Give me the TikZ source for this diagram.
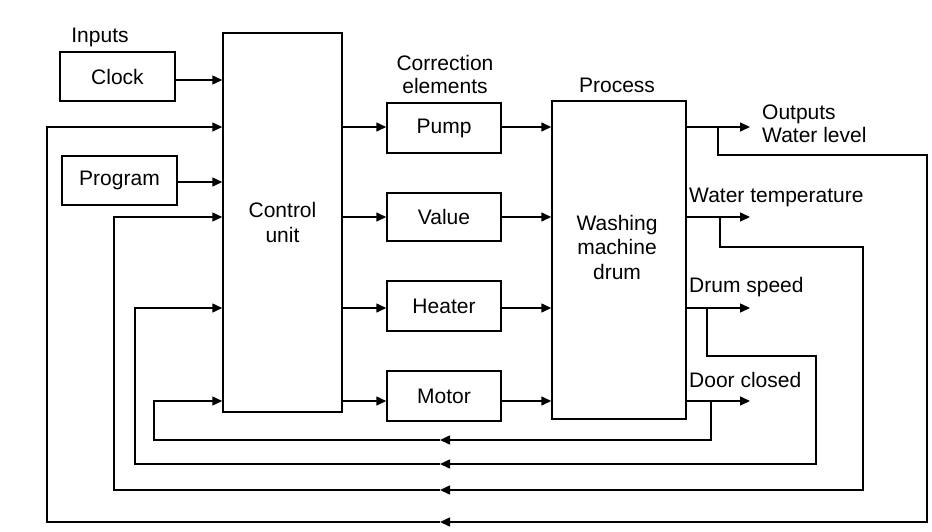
\documentclass[tikz,border=0pt]{standalone}
\usepackage{fontspec}
\setmainfont{Liberation Sans}
\usetikzlibrary{arrows.meta}
\newcommand\myfs{\fontsize{21}{24.5}\selectfont}
\begin{document}
\begin{tikzpicture}[x=1pt,y=-1pt,
  box/.style={draw, line width=1.5pt, inner sep=0pt, font=\myfs, align=center},
  lbl/.style={inner sep=0pt, font=\myfs},
  ln/.style={line width=1.5pt},
  conn/.style={line width=1.5pt, -{Triangle[length=10pt,width=9pt]}}]
\useasboundingbox (0,0) rectangle (932,531);
\fill[white] (0,0) rectangle (932,531);

% rows
\coordinate (rclk) at (0,80);
\coordinate (r1) at (0,127);
\coordinate (rprg) at (0,182);
\coordinate (r2) at (0,217);
\coordinate (r3) at (0,308);
\coordinate (r4) at (0,401);

% blocks
\node[box, minimum width=115pt, minimum height=49pt] (clock) at (117.5,76.5) {Clock};
\node[box, minimum width=115pt, minimum height=49pt] (prog) at (119.5,180.5) {Program};
\node[box, minimum width=119pt, minimum height=379pt] (cu) at (282.5,222.5) {Control\\unit};
\node[box, minimum width=114pt, minimum height=50pt] (pump) at (444,128) {Pump};
\node[box, minimum width=114pt, minimum height=48pt] (valve) at (444,217) {Value};
\node[box, minimum width=114pt, minimum height=50pt] (heater) at (444,306) {Heater};
\node[box, minimum width=114pt, minimum height=50pt] (motor) at (444,396) {Motor};
\node[box, minimum width=134pt, minimum height=318pt] (drum) at (619,260) {};
\node[lbl, align=center] (drumlbl) at (617,247) {Washing\\machine\\drum};

% labels
\node[lbl] (inputs) at (100,37) {Inputs};
\node[lbl, align=center, font=\fontsize{21}{23}\selectfont] (corr) at (445,74.5) {Correction\\elements};
\node[lbl] (process) at (617,85) {Process};
\node[lbl, align=left, anchor=west, font=\fontsize{21}{23}\selectfont] (outlbl) at (762,123.5) {Outputs\\Water level};
\node[lbl, anchor=west] (wtlbl) at (689,197) {Water temperature};
\node[lbl, anchor=west] (dslbl) at (689,287) {Drum speed};
\node[lbl, anchor=west] (dclbl) at (689,380) {Door closed};

% inputs to control unit
\draw[conn] (clock.east |- rclk) -- (cu.west |- rclk);
\draw[conn] (prog.east |- rprg) -- (cu.west |- rprg);

% control unit -> correction elements -> drum
\foreach \b/\r in {pump/r1, valve/r2, heater/r3, motor/r4}{
  \draw[conn] (cu.east |- \r) -- (\b.west |- \r);
  \draw[conn] (\b.east |- \r) -- (drum.west |- \r);
}

% outputs
\coordinate (o1) at (750,127);
\coordinate (o2) at (750,217);
\coordinate (o3) at (750,308);
\coordinate (o4) at (750,401);
\draw[conn] (drum.east |- r1) -- (o1);
\draw[conn] (drum.east |- r2) -- (o2);
\draw[conn] (drum.east |- r3) -- (o3);
\draw[conn] (drum.east |- r4) -- (o4);

% feedback 1 (water level)
\coordinate (b1) at (718,127);
\coordinate (m1) at (440,522);
\draw[conn] (b1) -- (718,155) -- (927,155) -- (927,522) -- (m1);
\draw[conn] (m1) -- (47,522) -- (47,127) -- (cu.west |- r1);

% feedback 2 (water temperature)
\coordinate (b2) at (720,217);
\coordinate (m2) at (440,490);
\draw[conn] (b2) -- (720,247) -- (863,247) -- (863,490) -- (m2);
\draw[conn] (m2) -- (114,490) -- (114,217) -- (cu.west |- r2);

% feedback 3 (drum speed)
\coordinate (b3) at (707,308);
\coordinate (m3) at (440,464);
\draw[conn] (b3) -- (707,356) -- (816,356) -- (816,464) -- (m3);
\draw[conn] (m3) -- (135,464) -- (135,308) -- (cu.west |- r3);

% feedback 4 (door closed)
\coordinate (b4) at (711,401);
\coordinate (m4) at (440,440);
\draw[conn] (b4) -- (711,440) -- (m4);
\draw[conn] (m4) -- (154,440) -- (154,401) -- (cu.west |- r4);
\end{tikzpicture}
\end{document}
